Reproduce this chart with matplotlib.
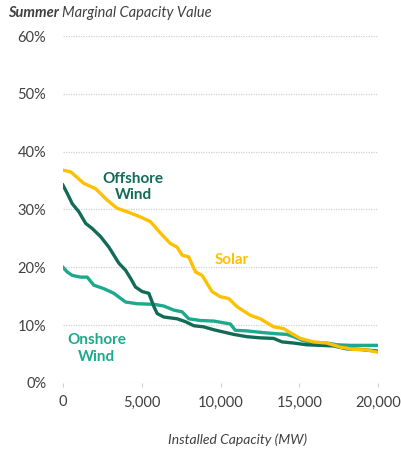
import matplotlib
matplotlib.use("Agg")
import matplotlib.pyplot as plt
from matplotlib.ticker import FuncFormatter

plt.rcParams['font.family'] = ['Lato', 'DejaVu Sans']

# Installed capacity (MW) and marginal capacity value (%) for each resource
solar_mw = [0, 500, 1330, 2070, 2810, 3440, 4080, 4920, 5550, 6190, 6820, 7240, 7560,
            7980, 8410, 8830, 9460, 9990, 10520, 11040, 11890, 12520, 13370, 14000,
            14420, 15060, 15900, 16750, 17590, 18440, 19280, 20000]
solar_val = [36.8, 36.5, 34.5, 33.6, 31.6, 30.2, 29.6, 28.7, 27.9, 25.9, 24.1, 23.5, 22.1,
             21.8, 19.2, 18.6, 15.8, 14.9, 14.6, 13.2, 11.7, 11.1, 9.7, 9.4,
             8.7, 7.7, 7.1, 6.9, 6.2, 5.8, 5.7, 5.3]

offshore_mw = [0, 270, 590, 1010, 1440, 1860, 2390, 2910, 3230, 3550, 3970, 4290, 4600,
               5030, 5450, 5770, 5980, 6400, 7240, 7770, 8300, 8930, 9570, 10200, 10830,
               11680, 12520, 13370, 13900, 14640, 15480, 16330, 17170, 18010, 18860, 20000]
offshore_val = [34.2, 32.8, 31.0, 29.6, 27.6, 26.7, 25.3, 23.5, 22.1, 20.7, 19.5, 18.1, 16.6,
                15.8, 15.5, 13.2, 12.0, 11.4, 11.1, 10.6, 9.9, 9.7, 9.2, 8.8, 8.4,
                8.0, 7.8, 7.7, 7.1, 6.9, 6.6, 6.5, 6.4, 5.9, 5.8, 5.5]

onshore_mw = [0, 270, 590, 1120, 1540, 1960, 2600, 3230, 3970, 4710, 5770, 6400, 7030,
              7560, 7980, 8720, 9570, 10200, 10620, 10940, 11680, 12730, 13580, 14210,
              14640, 15160, 15900, 16750, 17380, 18220, 20000]
onshore_val = [20.0, 19.2, 18.6, 18.3, 18.3, 16.9, 16.3, 15.5, 14.0, 13.7, 13.6, 13.3, 12.6,
               12.3, 11.1, 10.8, 10.7, 10.4, 10.2, 9.1, 9.0, 8.7, 8.5, 8.4,
               8.0, 7.4, 6.9, 6.9, 6.6, 6.5, 6.5]

x_ticks = [0, 5000, 10000, 15000, 20000]
y_ticks = [0, 10, 20, 30, 40, 50, 60]

SOLAR = '#FFC000'
OFFSHORE = '#116B56'
ONSHORE = '#1DAA8C'
TEXT = '#404040'

fig = plt.figure(figsize=(4.01, 4.50), dpi=100)
ax = fig.add_axes([0.157, 0.149, 0.786, 0.771])

for y in y_ticks:
    ax.axhline(y, color='#D0D0D0', lw=0.9, ls=(0, (1, 1)), zorder=1)

ax.plot(onshore_mw, onshore_val, color=ONSHORE, lw=2.4, zorder=3, solid_joinstyle='round')
ax.plot(offshore_mw, offshore_val, color=OFFSHORE, lw=2.4, zorder=4, solid_joinstyle='round')
ax.plot(solar_mw, solar_val, color=SOLAR, lw=2.4, zorder=5, solid_joinstyle='round')

ax.set_xlim(0, 20000)
ax.set_ylim(0, 60)
ax.set_xticks(x_ticks)
ax.set_yticks(y_ticks)
ax.xaxis.set_major_formatter(FuncFormatter(lambda v, p: f'{int(v):,}'))
ax.yaxis.set_major_formatter(FuncFormatter(lambda v, p: f'{int(v)}%'))
ax.tick_params(axis='y', length=0, pad=12, labelsize=10.5, labelcolor=TEXT)
ax.tick_params(axis='x', length=3, width=0.8, color='#D0D0D0', direction='out',
               pad=6, labelsize=10.5, labelcolor=TEXT)
for s in ax.spines.values():
    s.set_visible(False)
ax.set_facecolor('none')

ax.text(4450, 33.9, 'Offshore\nWind', color=OFFSHORE, fontsize=11, fontweight='bold',
        ha='center', va='center', linespacing=1.25)
ax.text(10700, 21.3, 'Solar', color=SOLAR, fontsize=11, fontweight='bold',
        ha='center', va='center')
ax.text(2150, 6.0, 'Onshore\nWind', color=ONSHORE, fontsize=11, fontweight='bold',
        ha='center', va='center', linespacing=1.25)

# Title: bold italic first word, italic remainder
t1 = fig.text(0.02, 0.972, 'Summer', fontsize=10.5, fontweight='bold', fontstyle='italic',
              color=TEXT, ha='left', va='center')
fig.canvas.draw()
bb = t1.get_window_extent().transformed(fig.transFigure.inverted())
fig.text(bb.x1 + 0.008, 0.972, 'Marginal Capacity Value', fontsize=10.5, fontstyle='italic',
         color=TEXT, ha='left', va='center')
fig.text(0.593, 0.022, 'Installed Capacity (MW)', fontsize=10, fontstyle='italic',
         color=TEXT, ha='center', va='center')

fig.savefig('out.png', dpi=100)
